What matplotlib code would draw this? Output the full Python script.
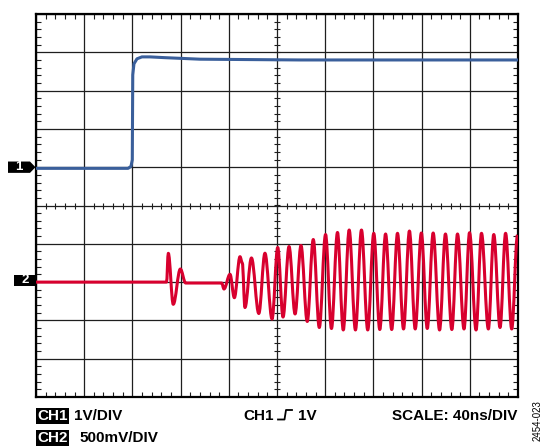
import numpy as np
import matplotlib
matplotlib.use("Agg")
import matplotlib.pyplot as plt
from matplotlib.path import Path
from matplotlib.patches import PathPatch, Polygon, Rectangle
from matplotlib.ticker import MultipleLocator
from matplotlib.lines import Line2D
from matplotlib import transforms

plt.rcParams['font.family'] = ['Liberation Sans', 'DejaVu Sans']

# scope settings
NS_PER_DIV = 40
CH1_V_PER_DIV = 1.0
CH2_V_PER_DIV = 0.5
CH1_OFFSET = 1      # ground marker, divisions from centre
CH2_OFFSET = -2

# CH1: time (ns), volts
ch1_t = [0, 76.4, 78.8, 79.9, 80.3, 81.3, 83.8, 87.9, 94.6, 107.0, 136.1, 219.1, 400]
ch1_v = [-0.03, -0.03, 0.02, 0.19, 2.41, 2.70, 2.83, 2.88, 2.88, 2.86, 2.82, 2.80, 2.80]

# CH2: turning points of the ringing, time (ns), volts
ch2_t = [0, 108.3, 109.8, 113.9, 119.8, 124.2, 154.1, 156.0, 161.0, 164.6,
         169.3, 171.2, 173.4, 178.8, 184.9, 190.0, 195.9, 200.6, 205.0, 210.0,
         215.0, 219.9, 225.1, 230.1, 235.1, 240.3, 245.2, 250.2, 255.0, 259.9,
         265.1, 270.1, 275.3, 280.3, 285.3, 290.1, 295.2, 300.0, 305.0, 309.9,
         314.7, 319.8, 324.7, 329.6, 334.9, 339.8, 345.1, 349.8, 355.2, 359.8,
         365.2, 369.7, 375.4, 379.9, 385.1, 389.7, 394.8, 399.6]
ch2_v = [0.0, 0.0, 0.376, -0.290, 0.171, -0.012, -0.012, -0.09, 0.102, -0.204,
         0.332, 0.249, -0.332, 0.315, -0.410, 0.377, -0.482, 0.452, -0.456, 0.465,
         -0.416, 0.478, -0.514, 0.556, -0.593, 0.621, -0.606, 0.648, -0.625, 0.680,
         -0.625, 0.680, -0.625, 0.637, -0.619, 0.628, -0.619, 0.637, -0.612, 0.667,
         -0.612, 0.641, -0.606, 0.641, -0.625, 0.628, -0.619, 0.628, -0.612, 0.645,
         -0.625, 0.637, -0.612, 0.621, -0.593, 0.637, -0.612, 0.615]

BLUE = '#3a5f9b'
RED = '#d8002e'
GRID = '#1e1e1e'

W, H = 546, 447


def smooth_path(t, y, k=0.36):
    # cubic segments with flat tangents at every turning point
    verts = [(t[0], y[0])]
    codes = [Path.MOVETO]
    for i in range(len(t) - 1):
        dt = t[i + 1] - t[i]
        verts += [(t[i] + k * dt, y[i]), (t[i + 1] - k * dt, y[i + 1]), (t[i + 1], y[i + 1])]
        codes += [Path.CURVE4] * 3
    return Path(verts, codes)


def fx(px):
    return px / W


def fy(py):
    return 1 - py / H


fig = plt.figure(figsize=(W / 100, H / 100), dpi=100)
ax = fig.add_axes([fx(36), fy(397), fx(482), 383 / H])
ax.set_xlim(0, 10 * NS_PER_DIV)
ax.set_ylim(-5, 5)
ax.xaxis.set_major_locator(MultipleLocator(NS_PER_DIV))
ax.xaxis.set_minor_locator(MultipleLocator(NS_PER_DIV / 5))
ax.yaxis.set_major_locator(MultipleLocator(1))
ax.yaxis.set_minor_locator(MultipleLocator(0.2))
ax.tick_params(which='both', direction='in', top=True, right=True,
               labelbottom=False, labelleft=False, color=GRID)
ax.tick_params(which='minor', length=3.4, width=0.8)
ax.tick_params(which='major', length=0)
ax.grid(which='major', color=GRID, lw=0.9)
ax.set_axisbelow(True)
for s in ax.spines.values():
    s.set_linewidth(1.6)
    s.set_color('black')

# ticks on the centre crosshair
xs = np.arange(0, 10 * NS_PER_DIV + 1, NS_PER_DIV / 5)
ys = np.arange(-5, 5.01, 0.2)
ax.plot(xs, np.zeros_like(xs), ls='none', marker='|', ms=5, mew=0.8, color=GRID, zorder=1)
ax.plot(np.full_like(ys, 5 * NS_PER_DIV), ys, ls='none', marker='_', ms=5, mew=0.8, color=GRID, zorder=1)

# traces
ax.plot(ch1_t, CH1_OFFSET + np.array(ch1_v) / CH1_V_PER_DIV, color=BLUE, lw=2.2,
        solid_joinstyle='round', zorder=3)
ch2_y = CH2_OFFSET + np.array(ch2_v) / CH2_V_PER_DIV
ax.add_patch(PathPatch(smooth_path(ch2_t, ch2_y), fill=False, edgecolor=RED, lw=2.2,
                       joinstyle='round', capstyle='butt', zorder=3))

# channel ground markers
mk = transforms.blended_transform_factory(fig.transFigure, ax.transData)
h = 0.148
fig.add_artist(Polygon([(fx(8), CH1_OFFSET - h), (fx(30), CH1_OFFSET - h), (fx(35.5), CH1_OFFSET),
                        (fx(30), CH1_OFFSET + h), (fx(8), CH1_OFFSET + h)],
                       closed=True, fc='black', ec='none', transform=mk))
fig.text(fx(19), CH1_OFFSET, '1', transform=mk, color='white', fontsize=9.5, fontweight='bold',
         ha='center', va='center')
fig.add_artist(Rectangle((fx(14), CH2_OFFSET + 0.05 - h), fx(22), 2 * h,
                         fc='black', ec='none', transform=mk))
fig.text(fx(25), CH2_OFFSET + 0.05, '2', transform=mk, color='white', fontsize=9.5, fontweight='bold',
         ha='center', va='center')

# readout
box = dict(boxstyle='square,pad=0.08', fc='black', ec='none')
fs = 11
fig.text(fx(37), fy(420), 'CH1', color='white', fontsize=fs, fontweight='bold', bbox=box)
fig.text(fx(74), fy(420), '1V/DIV', fontsize=fs, fontweight='bold')
fig.text(fx(37), fy(442), 'CH2', color='white', fontsize=fs, fontweight='bold', bbox=box)
fig.text(fx(79), fy(442), '500mV/DIV', fontsize=fs, fontweight='bold')
fig.text(fx(243), fy(420), 'CH1', fontsize=fs, fontweight='bold')
fig.add_artist(Line2D([fx(278), fx(284.5), fx(286), fx(292)], [fy(419.5), fy(419.5), fy(410), fy(410)],
                      color='black', lw=1.3))
fig.text(fx(298), fy(420), '1V', fontsize=fs, fontweight='bold')
fig.text(fx(517), fy(420), 'SCALE: 40ns/DIV', fontsize=fs, fontweight='bold', ha='right')
fig.text(fx(538), fy(421), '2454-023', fontsize=7, rotation=90, ha='center', va='center')

fig.savefig('out.png', dpi=100)
